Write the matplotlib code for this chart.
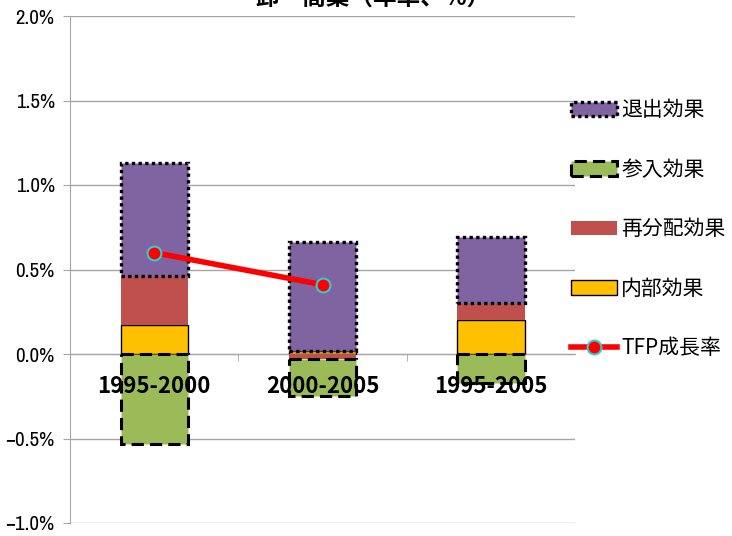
import numpy as np
import matplotlib
matplotlib.use('Agg')
import matplotlib.pyplot as plt
from matplotlib import font_manager
from matplotlib.ticker import FixedLocator, FuncFormatter

plt.rcParams['font.family'] = ['Noto Sans CJK JP', 'DejaVu Sans']

# narrow font for the y tick labels if one is installed
names = sorted({f.name for f in font_manager.fontManager.ttflist})
narrow = [n for n in names if 'Narrow' in n or 'Condensed' in n]
tick_font = narrow[0] if narrow else 'Liberation Sans'

# data (percent, annual rate)
periods = ['1995-2000', '2000-2005', '1995-2005']
internal = [0.17, 0.02, 0.20]        # 内部効果
realloc = [0.29, -0.03, 0.10]        # 再分配効果
entry = [-0.53, -0.22, -0.17]        # 参入効果
exit_eff = [0.67, 0.64, 0.39]        # 退出効果
tfp = [0.60, 0.41, np.nan]           # TFP成長率
yticks = [-1.0, -0.5, 0.0, 0.5, 1.0, 1.5, 2.0]

fig = plt.figure(figsize=(7.32, 5.36), dpi=100)
ax = fig.add_axes([70 / 732, 1 - 523 / 536, 505 / 732, 507 / 536])

x = np.arange(len(periods))
width = 0.4

series = [
    (internal, '内部効果', dict(color='#FFC000', edgecolor='black', linewidth=1.0)),
    (realloc, '再分配効果', dict(color='#C0504D', linewidth=0)),
    (entry, '参入効果', dict(color='#9BBB59', edgecolor='black', linewidth=2.2, linestyle=(0, (4, 2)))),
    (exit_eff, '退出効果', dict(color='#8064A2', edgecolor='black', linewidth=2.4, linestyle=(0, (1, 1)))),
]

pos_bottom = np.zeros(len(periods))
neg_bottom = np.zeros(len(periods))
handles = {}
for vals, name, style in series:
    vals = np.array(vals)
    bottom = np.where(vals >= 0, pos_bottom, neg_bottom)
    bars = ax.bar(x, vals, width, bottom=bottom, label=name, zorder=3, **style)
    handles[name] = bars
    pos_bottom = pos_bottom + np.where(vals >= 0, vals, 0)
    neg_bottom = neg_bottom + np.where(vals < 0, vals, 0)

line, = ax.plot(x, tfp, color='#FF0000', linewidth=4, marker='o', markersize=10,
                markerfacecolor='#FF0000', markeredgecolor='#33CCCC',
                markeredgewidth=1.5, zorder=5, label='TFP成長率')

ax.set_xlim(-0.5, 2.5)
ax.set_ylim(-1.0, 2.0)
ax.set_yticks(yticks)
ax.yaxis.set_major_formatter(FuncFormatter(lambda v, p: f'{v:.1f}%'.replace('-', '\u2212')))
ax.grid(axis='y', color='#A6A6A6', linewidth=1, zorder=0)
ax.set_axisbelow(True)

for s in ['top', 'right']:
    ax.spines[s].set_visible(False)
ax.spines['left'].set_color('#A6A6A6')
ax.spines['bottom'].set_position(('data', 0))
ax.spines['bottom'].set_color('#A6A6A6')
ax.spines['bottom'].set_zorder(1)

ax.tick_params(axis='y', colors='#A6A6A6', length=5, labelcolor='black', pad=6)
for t in ax.get_yticklabels():
    t.set_fontfamily([tick_font, 'DejaVu Sans'])
    t.set_fontsize(15)

ax.set_xticks(x)
ax.set_xticklabels(periods, fontsize=16, fontweight='bold', color='black')
ax.tick_params(axis='x', which='major', length=0, pad=15)
ax.xaxis.set_minor_locator(FixedLocator([0.5, 1.5]))
ax.tick_params(axis='x', which='minor', length=5, color='#A6A6A6')
ax.xaxis.set_zorder(6)

order = ['退出効果', '参入効果', '再分配効果', '内部効果']
leg = fig.legend([handles[n] for n in order] + [line], order + ['TFP成長率'],
                 loc='upper left', bbox_to_anchor=(563 / 732, 1 - 91 / 536),
                 frameon=False, fontsize=15, handlelength=2.2, handleheight=0.7,
                 labelspacing=1.8, handletextpad=0.2, borderaxespad=0)

fig.text(373 / 732, 1 + 2 / 536, '卸・商業（年率、%）', ha='center', va='center',
         fontsize=17, fontweight='bold')

fig.savefig('out.png', dpi=100)
